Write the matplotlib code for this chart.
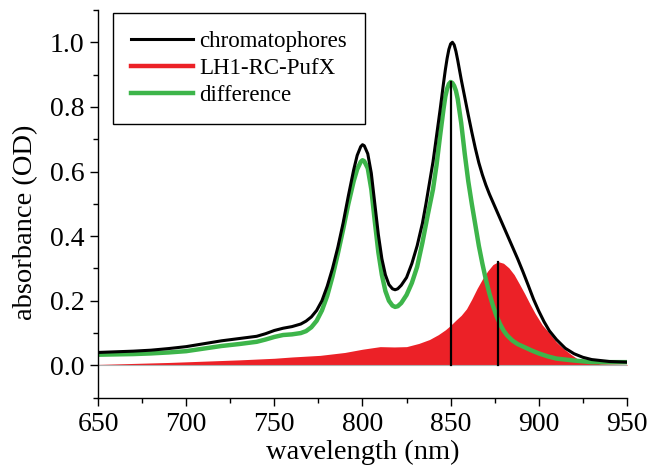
import numpy as np
import matplotlib
matplotlib.use("Agg")
from matplotlib import pyplot as plt
from matplotlib.lines import Line2D
from matplotlib.ticker import MultipleLocator, FormatStrFormatter

# chromatophores (black)
wl_chrom = [650, 660, 670, 680, 690, 700, 710, 720, 730, 740, 745, 750, 755, 760, 765,
            768, 771, 774, 777, 780, 783, 786, 789, 792, 795, 797, 799, 800, 801, 803,
            805, 807, 809, 811, 813, 815, 817, 818.5, 820, 822, 825, 828, 831, 834, 836,
            838, 840, 842, 844, 846, 847, 848, 849, 850, 851, 852, 853, 854, 856, 858,
            860, 862, 864, 866, 868, 870, 872, 874, 876, 878, 880, 882, 884, 886, 888,
            891, 894, 897, 900, 903, 906, 910, 915, 920, 925, 930, 940, 950]
chrom = [0.040, 0.042, 0.044, 0.047, 0.052, 0.058, 0.067, 0.076, 0.083, 0.090, 0.098,
         0.108, 0.115, 0.120, 0.128, 0.137, 0.150, 0.170, 0.200, 0.245, 0.300, 0.365,
         0.440, 0.525, 0.605, 0.650, 0.677, 0.683, 0.680, 0.655, 0.595, 0.500, 0.405,
         0.330, 0.280, 0.250, 0.237, 0.234, 0.237, 0.248, 0.272, 0.315, 0.370, 0.440,
         0.500, 0.565, 0.630, 0.710, 0.790, 0.875, 0.915, 0.950, 0.978, 0.995, 1.000,
         0.992, 0.972, 0.945, 0.885, 0.830, 0.775, 0.722, 0.672, 0.627, 0.590, 0.558,
         0.530, 0.505, 0.480, 0.455, 0.430, 0.405, 0.380, 0.355, 0.330, 0.290, 0.248,
         0.205, 0.168, 0.135, 0.107, 0.080, 0.053, 0.036, 0.025, 0.018, 0.012, 0.010]

# difference (green)
wl_diff = [650, 660, 670, 680, 690, 700, 710, 720, 730, 740, 745, 750, 755, 760, 765,
           768, 771, 774, 777, 780, 783, 786, 789, 792, 795, 797, 799, 800, 801, 803,
           805, 807, 809, 811, 813, 815, 817, 818.5, 820, 822, 825, 828, 831, 834, 837,
           840, 842, 844, 846, 847, 848, 849, 850, 851, 852, 853, 854, 856, 858, 860,
           862, 864, 866, 868, 870, 872, 874, 876, 878, 880, 882, 885, 888, 892, 896,
           900, 905, 910, 920, 930, 940, 950]
diff = [0.033, 0.034, 0.035, 0.037, 0.040, 0.044, 0.052, 0.060, 0.066, 0.073, 0.080,
        0.088, 0.094, 0.096, 0.100, 0.106, 0.118, 0.138, 0.170, 0.215, 0.275, 0.345,
        0.420, 0.500, 0.570, 0.607, 0.630, 0.635, 0.632, 0.610, 0.545, 0.445, 0.350,
        0.280, 0.230, 0.200, 0.185, 0.181, 0.183, 0.193, 0.218, 0.255, 0.305, 0.380,
        0.465, 0.545, 0.620, 0.710, 0.795, 0.832, 0.856, 0.871, 0.877, 0.874, 0.865,
        0.850, 0.825, 0.750, 0.655, 0.570, 0.500, 0.435, 0.370, 0.315, 0.265, 0.222,
        0.185, 0.153, 0.128, 0.108, 0.093, 0.077, 0.066, 0.056, 0.046, 0.037, 0.028,
        0.021, 0.015, 0.010, 0.010, 0.010]

# LH1-RC-PufX (red fill)
wl_lh1 = [650, 670, 690, 710, 730, 750, 760, 776, 790, 800, 810, 818, 825, 832, 838,
          843, 847, 850, 853, 856, 859, 862, 865, 868, 871, 874, 877, 880, 883, 886,
          889, 892, 895, 898, 902, 906, 910, 914, 918, 922, 927, 935, 950]
lh1 = [0.003, 0.006, 0.009, 0.013, 0.017, 0.022, 0.026, 0.031, 0.040, 0.050, 0.058,
       0.057, 0.058, 0.068, 0.080, 0.095, 0.110, 0.124, 0.140, 0.155, 0.175, 0.205,
       0.238, 0.267, 0.292, 0.312, 0.321, 0.316, 0.302, 0.281, 0.252, 0.222, 0.190,
       0.160, 0.125, 0.100, 0.072, 0.052, 0.035, 0.020, 0.010, 0.005, 0.003]

peak_wl = [850, 877]
peak_top = [0.877, 0.321]

RED = "#ec2127"
GREEN = "#3db54a"

plt.rcParams["font.family"] = ["Liberation Serif", "DejaVu Serif"]

fig = plt.figure(figsize=(6.47, 4.66), dpi=100)
ax = fig.add_axes([0.1515, 0.1466, 0.8175, 0.832])

ax.fill_between(wl_lh1, 0, lh1, color=RED, linewidth=0)
ax.plot([650, 950], [0, 0], color="#b0b0b0", lw=0.8)
ax.plot(wl_diff, diff, color=GREEN, lw=3.2, solid_joinstyle="round")
ax.plot(wl_chrom, chrom, color="black", lw=2.2, solid_joinstyle="round")
for w, t in zip(peak_wl, peak_top):
    ax.plot([w, w], [0, t], color="black", lw=1.6)

ax.set_xlim(650, 950)
ax.set_ylim(-0.1, 1.1)
ax.xaxis.set_major_locator(MultipleLocator(50))
ax.xaxis.set_minor_locator(MultipleLocator(25))
ax.yaxis.set_minor_locator(MultipleLocator(0.1))
ax.set_yticks([0.0, 0.2, 0.4, 0.6, 0.8, 1.0])
ax.yaxis.set_major_formatter(FormatStrFormatter("%.1f"))

for s in ["top", "right"]:
    ax.spines[s].set_visible(False)
for s in ["left", "bottom"]:
    ax.spines[s].set_linewidth(1.0)
ax.tick_params(which="major", direction="out", length=6, width=1.0, labelsize=20, pad=4)
ax.tick_params(which="minor", direction="out", length=3.5, width=1.0)

ax.set_xlabel("wavelength (nm)", fontsize=20.5, va="center")
ax.set_ylabel("absorbance (OD)", fontsize=20.5, va="center")
ax.xaxis.set_label_coords(0.5, -0.142)
ax.yaxis.set_label_coords(-0.136, 0.453)

handles = [Line2D([], [], color="black", lw=2.2),
           Line2D([], [], color=RED, lw=3.2),
           Line2D([], [], color=GREEN, lw=3.2)]
leg = ax.legend(handles, ["chromatophores", "LH1-RC-PufX", "difference"],
                loc="upper left", bbox_to_anchor=(0.028, 0.992), borderaxespad=0,
                fontsize=16.5, frameon=True, fancybox=False, framealpha=1,
                edgecolor="black", handlelength=2.7, handletextpad=0.26,
                labelspacing=0.25, borderpad=0.8)
leg.get_frame().set_linewidth(1.0)

fig.savefig("out.png", dpi=100)
